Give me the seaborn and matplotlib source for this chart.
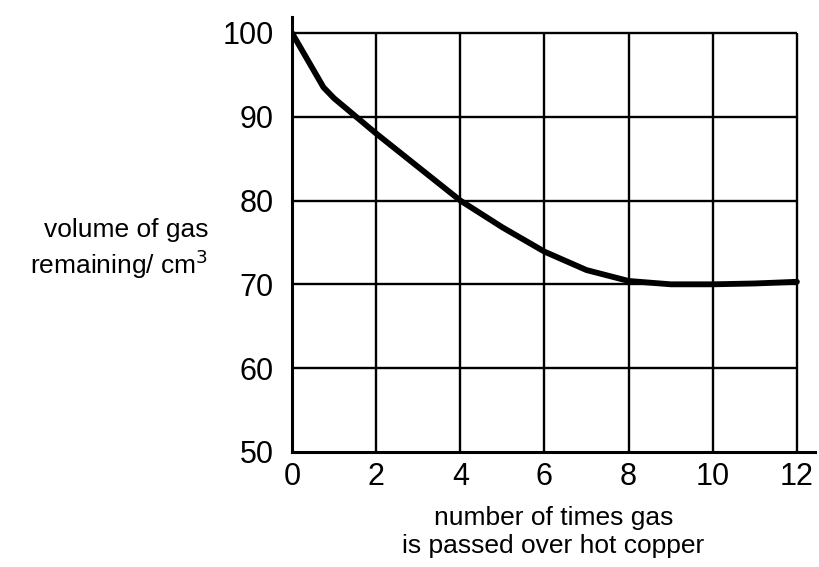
import pandas as pd
import matplotlib
matplotlib.use("Agg")
import matplotlib.pyplot as plt
import seaborn as sns

# dane
passes = [0, 0.75, 1, 2, 3, 4, 5, 6, 7, 8, 9, 10, 11, 12]
volume = [100, 93.5, 92.2, 88, 84, 80, 76.8, 73.9, 71.7, 70.4, 70.0, 70.0, 70.1, 70.3]
x_ticks = [0, 2, 4, 6, 8, 10, 12]
y_ticks = [50, 60, 70, 80, 90, 100]

df = pd.DataFrame({"passes": passes, "volume": volume})

sns.set_style("white")
plt.rcParams["font.family"] = ["Liberation Sans", "DejaVu Sans"]
plt.rcParams["text.color"] = "black"
plt.rcParams["axes.labelcolor"] = "black"
plt.rcParams["xtick.color"] = "black"
plt.rcParams["ytick.color"] = "black"

fig = plt.figure(figsize=(8.19, 5.67), dpi=100)
ax = fig.add_axes([0.3565, 0.203, 0.6386, 0.767])

# siatka tylko w obszarze 0-12 / 50-100
ax.vlines(x_ticks[1:], y_ticks[0], y_ticks[-1], color="black", lw=1.7, zorder=1)
ax.hlines(y_ticks[1:], x_ticks[0], x_ticks[-1], color="black", lw=1.7, zorder=1)

sns.lineplot(data=df, x="passes", y="volume", color="black", lw=4.2, ax=ax, zorder=3)

ax.set_xlim(0, 12.43)
ax.set_ylim(50, 101.9)
ax.set_xticks(x_ticks)
ax.set_yticks(y_ticks)
ax.tick_params(axis="both", length=0, labelsize=22)
ax.tick_params(axis="y", pad=13)
ax.tick_params(axis="x", pad=7)

for s in ["top", "right"]:
    ax.spines[s].set_visible(False)
for s in ["left", "bottom"]:
    ax.spines[s].set_color("black")
    ax.spines[s].set_linewidth(2.2)

ax.set_ylabel("volume of gas\nremaining/ cm$^3$", rotation=0, ha="right", va="center",
              fontsize=19, multialignment="right")
ax.yaxis.set_label_coords(-0.16, 0.465)
ax.set_xlabel("number of times gas\nis passed over hot copper", fontsize=19, va="top")
ax.xaxis.set_label_coords(0.50, -0.125)

fig.savefig("out.png", dpi=100)
